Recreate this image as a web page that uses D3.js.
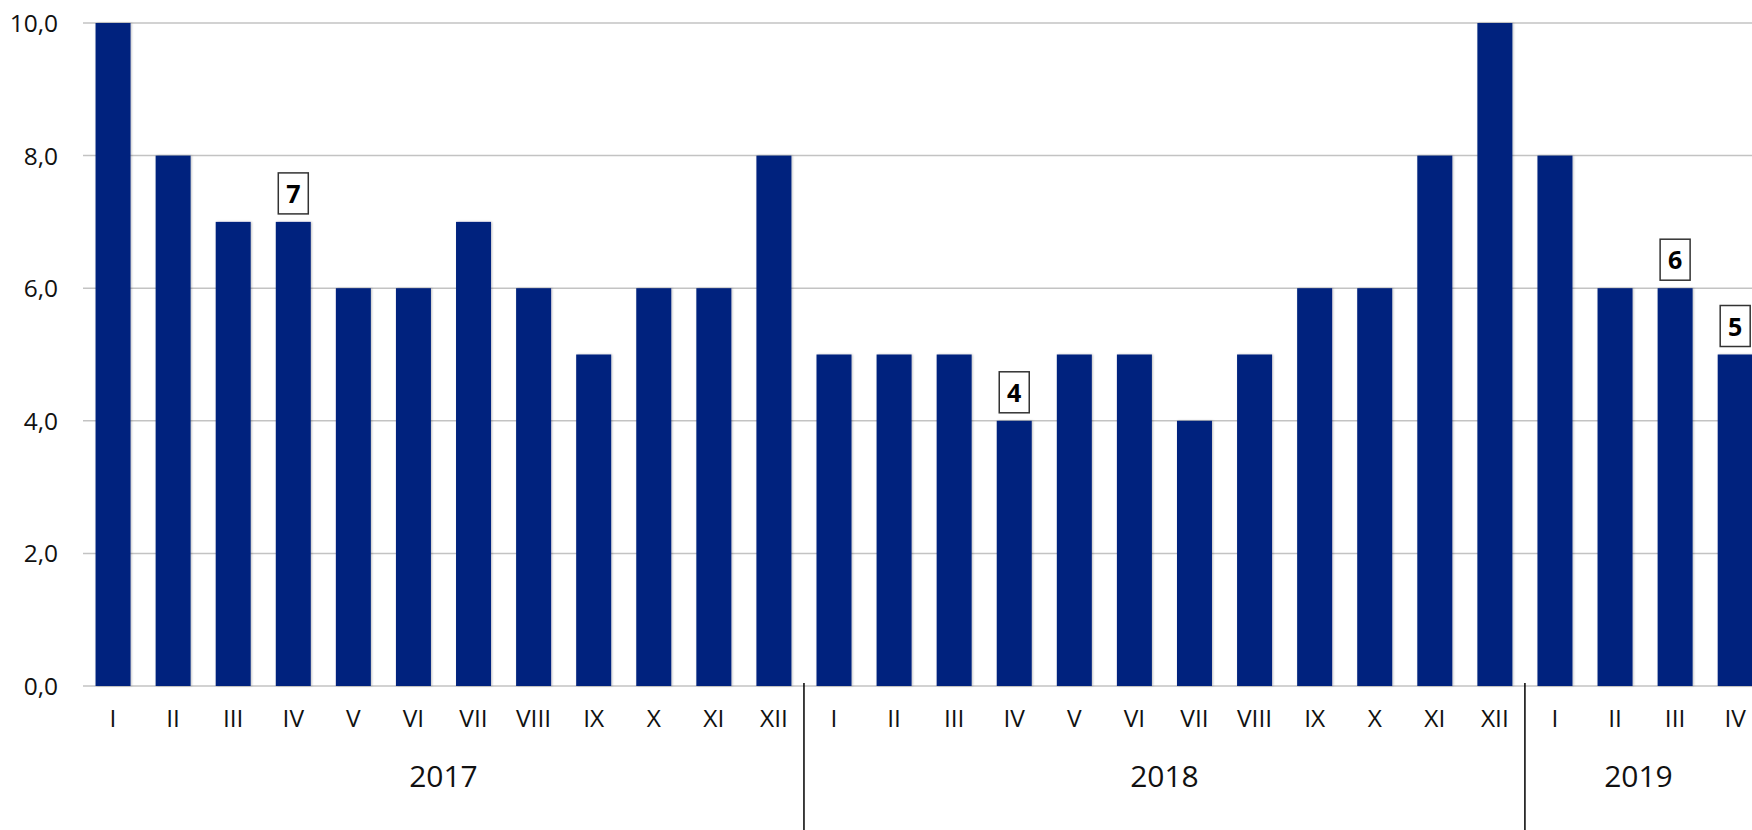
<!DOCTYPE html>
<html>
<head>
<meta charset="utf-8">
<script src="https://cdn.jsdelivr.net/npm/d3@7"></script>
<style>
  html, body { margin: 0; padding: 0; background: #fff; }
  svg { display: block; font-family: "Open Sans", "Noto Sans", sans-serif; }
</style>
</head>
<body>
<svg id="chart" width="1752" height="830"></svg>
<script>
// data
const years = ["2017", "2018", "2019"];
const months = ["I", "II", "III", "IV", "V", "VI", "VII", "VIII", "IX", "X", "XI", "XII"];
const values2017 = [10, 8, 7, 7, 6, 6, 7, 6, 5, 6, 6, 8];
const values2018 = [5, 5, 5, 4, 5, 5, 4, 5, 6, 6, 8, 10];
const values2019 = [8, 6, 6, 5];
const yTicks = [0, 2, 4, 6, 8, 10];
// boxed labels: [year, month index]
const callouts = [["2017", 3], ["2018", 3], ["2019", 2], ["2019", 3]];

const series = { "2017": values2017, "2018": values2018, "2019": values2019 };
const rows = [];
years.forEach(y => series[y].forEach((v, i) => rows.push({ year: y, month: months[i], mi: i, value: v, key: y + "-" + i })));

const W = 1752, H = 830;
const left = 83, step = 60.08;
const svg = d3.select("#chart");

const defs = svg.append("defs");
defs.append("filter").attr("id", "shadow").attr("x", "-20%").attr("y", "-5%").attr("width", "140%").attr("height", "110%")
  .append("feDropShadow").attr("dx", 1).attr("dy", 0).attr("stdDeviation", 1.2)
  .attr("flood-color", "#000").attr("flood-opacity", 0.25);

const x = d3.scaleBand()
  .domain(rows.map(d => d.key))
  .range([left, left + step * rows.length])
  .paddingInner(0.4175)
  .paddingOuter(0.2088);

const y = d3.scaleLinear().domain([0, 10]).range([686, 23]);

// gridlines + y labels
const fmt = v => d3.format(".1f")(v).replace(".", ",");
svg.append("g").selectAll("line").data(yTicks).join("line")
  .attr("x1", left).attr("x2", W)
  .attr("y1", d => y(d)).attr("y2", d => y(d))
  .attr("stroke", "#c3c3c3").attr("stroke-width", 1.5);

svg.append("g").selectAll("text").data(yTicks).join("text")
  .attr("x", 58).attr("y", d => y(d) + 9)
  .attr("text-anchor", "end")
  .attr("font-size", 24.5).attr("fill", "#111")
  .text(fmt);

// bars
svg.append("g").attr("filter", "url(#shadow)").selectAll("rect").data(rows).join("rect")
  .attr("x", d => x(d.key)).attr("width", x.bandwidth())
  .attr("y", d => y(d.value)).attr("height", d => y(0) - y(d.value))
  .attr("fill", "#06237e");

// month labels
svg.append("g").selectAll("text").data(rows).join("text")
  .attr("x", d => x(d.key) + x.bandwidth() / 2).attr("y", 727)
  .attr("text-anchor", "middle").attr("font-size", 24.5).attr("fill", "#111")
  .text(d => d.month);

// year separators and labels
const bound = k => x(k) - x.step() * x.paddingInner() / 2;
const groups = years.map(yr => {
  const ks = rows.filter(d => d.year === yr).map(d => d.key);
  const a = bound(ks[0]), b = bound(ks[ks.length - 1]) + x.step();
  return { year: yr, a, b };
});
svg.append("g").selectAll("line").data(groups.slice(1)).join("line")
  .attr("x1", d => d.a).attr("x2", d => d.a)
  .attr("y1", 683).attr("y2", H)
  .attr("stroke", "#000").attr("stroke-width", 1.5);

svg.append("g").selectAll("text").data(groups).join("text")
  .attr("x", d => (Math.max(d.a, 52) + Math.min(d.b, W)) / 2).attr("y", 787)
  .attr("text-anchor", "middle").attr("font-size", 30).attr("fill", "#111")
  .text(d => d.year);

// boxed callouts
const cData = callouts.map(([yr, i]) => rows.find(d => d.year === yr && d.mi === i));
const cg = svg.append("g").selectAll("g").data(cData).join("g")
  .attr("transform", d => `translate(${x(d.key) + x.bandwidth() / 2},${y(d.value) - 8})`);
cg.append("rect")
  .attr("x", -15).attr("y", -41).attr("width", 30).attr("height", 41)
  .attr("fill", "#fff").attr("stroke", "#333").attr("stroke-width", 1.5);
cg.append("text")
  .attr("x", 0).attr("y", -11)
  .attr("text-anchor", "middle").attr("font-size", 25).attr("font-weight", "bold").attr("fill", "#000")
  .text(d => d.value);
</script>
</body>
</html>
